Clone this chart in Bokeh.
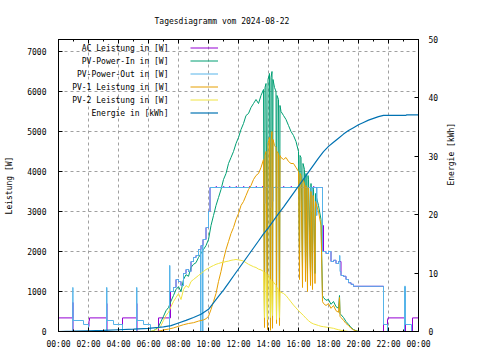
import math
from bokeh.plotting import figure
from bokeh.models import Range1d, LinearAxis, FixedTicker, Legend, LegendItem, Label, Title
from bokeh.core.properties import value
from bokeh.embed import file_html
from bokeh.resources import INLINE

FONT = "DejaVu Sans Mono"

TITLE = "Tagesdiagramm vom 2024-08-22"
X_TICKS = [0, 2, 4, 6, 8, 10, 12, 14, 16, 18, 20, 22, 24]
X_LABELS = ["00:00", "02:00", "04:00", "06:00", "08:00", "10:00", "12:00",
            "14:00", "16:00", "18:00", "20:00", "22:00", "00:00"]
Y_TICKS = [0, 1000, 2000, 3000, 4000, 5000, 6000, 7000]
Y2_TICKS = [0, 10, 20, 30, 40, 50]
SERIES_NAMES = ["AC Leistung in [W]", "PV-Power-In in [W]", "PV-Power-Out in [W]",
                "PV-1 Leistung in [W]", "PV-2 Leistung in [W]", "Energie in [kWh]"]
SERIES_COLORS = ["#9400d3", "#009e73", "#56b4e9", "#e69f00", "#f0e442", "#0072b2"]

# AC Leistung in [W]
AC_T = ["00:00", "00:57", "00:58", "02:00", "02:02", "02:04", "03:12", "03:14", "04:16",
        "05:12", "05:14", "06:40", "07:28", "07:40", "07:50", "08:00", "08:10", "08:20",
        "08:30", "08:40", "08:50", "09:00", "09:10", "09:20", "09:30", "09:38", "09:50",
        "10:00", "10:06", "10:30", "10:32", "11:00", "11:02", "11:24", "11:26", "11:50",
        "11:52", "12:20", "12:22", "12:44", "12:46", "13:10", "13:12", "13:36", "13:38",
        "14:30", "14:32", "15:00", "15:02", "15:30", "15:32", "16:00", "16:02", "16:30",
        "16:32", "17:00", "17:02", "17:36", "17:40", "17:50", "18:00", "18:10", "18:20",
        "18:30", "18:40", "18:50", "19:00", "19:10", "19:20", "19:30", "19:40", "21:40",
        "21:56", "21:58", "23:04", "23:08", "23:36", "24:00"]
AC_W = [340, 725, 0, 125, 275, 340, 700, 0, 340,
        700, 0, 340, 1000, 1100, 1300, 1250, 1150, 1450,
        1550, 1500, 1750, 1850, 1900, 2050, 2150, 2300, 2600,
        3000, 3600, 3625, 3600, 3625, 3600, 3625, 3600, 3625,
        3600, 3625, 3600, 3625, 3600, 3625, 3600, 3625, 3600,
        3625, 3600, 3625, 3600, 3625, 3600, 3625, 3600, 3625,
        3600, 3625, 3600, 2650, 2000, 1950, 2000, 1750, 1780,
        1700, 1750, 1400, 1380, 1300, 1220, 1180, 1130, 0,
        300, 340, 700, 0, 340, 340]

# PV-Power-In in [W]
PVIN_T = ["06:00", "06:10", "06:20", "06:30", "06:40", "06:50", "07:00", "07:10", "07:20",
          "07:30", "07:40", "07:50", "08:00", "08:10", "08:20", "08:30", "08:40", "08:50",
          "09:00", "09:10", "09:20", "09:30", "09:40", "09:50", "10:00", "10:10", "10:20",
          "10:30", "10:40", "10:50", "11:00", "11:10", "11:20", "11:30", "11:40", "11:50",
          "12:00", "12:10", "12:20", "12:30", "12:40", "12:50", "13:00", "13:10", "13:20",
          "13:30", "13:40", "13:44", "13:46", "13:50", "13:56", "13:58", "14:04", "14:08",
          "14:10", "14:14", "14:16", "14:18", "14:24", "14:30", "14:32", "14:34", "14:40",
          "14:44", "14:46", "14:50", "15:00", "15:10", "15:20", "15:30", "15:40", "15:50",
          "16:00", "16:04", "16:06", "16:10", "16:16", "16:18", "16:24", "16:28", "16:30",
          "16:36", "16:38", "16:40", "16:48", "16:50", "16:56", "16:58", "17:00", "17:06",
          "17:08", "17:10", "17:20", "17:30", "17:36", "17:40", "17:50", "18:00", "18:10",
          "18:20", "18:30", "18:40", "18:44", "18:46", "18:50", "19:00", "19:10", "19:20",
          "19:30", "19:40", "19:50", "20:00"]
PVIN_W = [0, 0, 20, 60, 120, 250, 380, 520, 600,
          760, 900, 1050, 1120, 1000, 1300, 1420, 1380, 1600,
          1680, 1720, 1850, 1950, 2050, 2150, 2300, 2650, 2900,
          3150, 3350, 3550, 3800, 3950, 4200, 4350, 4500, 4700,
          4850, 5050, 5200, 5400, 5450, 5600, 5700, 5800, 5700,
          5900, 6050, 200, 6100, 6200, 100, 6300, 6450, 50,
          6350, 6500, 100, 6300, 6100, 6000, 300, 5900, 5800,
          200, 5650, 5500, 5400, 5300, 5150, 5000, 4900, 4750,
          4500, 1800, 4400, 4350, 1600, 4200, 4050, 1700, 3950,
          1450, 3900, 3800, 1500, 3700, 1350, 3600, 3550, 1450,
          3450, 3400, 3150, 2800, 900, 850, 780, 800, 680,
          750, 620, 580, 900, 450, 420, 350, 250, 180,
          100, 50, 20, 0]

# PV-Power-Out in [W]
PVOUT_T = ["00:00", "00:57", "00:58", "01:40", "02:00", "03:12", "03:14", "03:40", "04:16",
           "05:12", "05:14", "05:40", "06:08", "07:24", "07:26", "07:40", "07:50", "08:00",
           "08:10", "08:20", "08:30", "08:40", "08:50", "09:00", "09:10", "09:20", "09:28",
           "09:30", "09:36", "09:38", "09:50", "10:00", "10:06", "13:44", "13:46", "14:08",
           "14:10", "14:16", "14:18", "16:52", "16:54", "17:12", "17:14", "17:36", "17:50",
           "18:00", "18:10", "18:20", "18:30", "18:40", "18:44", "18:46", "18:50", "19:00",
           "19:10", "19:20", "19:30", "19:40", "21:40", "21:56", "23:04", "23:08", "23:32",
           "24:00"]
PVOUT_W = [0, 1100, 275, 175, 0, 1100, 275, 175, 0,
           1100, 275, 175, 0, 1650, 1000, 1100, 1300, 1250,
           1150, 1450, 1550, 1500, 1750, 1850, 1900, 2050, 0,
           2150, 0, 2300, 2600, 3000, 3600, 3200, 3600, 3100,
           3600, 3250, 3600, 3000, 3600, 2900, 3600, 2000, 1950,
           2000, 1750, 1780, 1700, 1750, 1900, 1500, 1400, 1380,
           1300, 1220, 1180, 1130, 175, 0, 1130, 175, 0,
           0]

# PV-1 Leistung in [W]
PV1_T = ["06:00", "06:30", "06:50", "07:00", "07:20", "07:40", "08:00", "08:20", "08:40",
         "09:00", "09:20", "09:40", "09:50", "10:00", "10:10", "10:20", "10:30", "10:40",
         "10:50", "11:00", "11:10", "11:20", "11:30", "11:40", "11:50", "12:00", "12:10",
         "12:20", "12:30", "12:40", "12:50", "13:00", "13:10", "13:20", "13:30", "13:40",
         "13:44", "13:46", "13:50", "13:56", "13:58", "14:04", "14:08", "14:10", "14:14",
         "14:16", "14:18", "14:24", "14:30", "14:32", "14:34", "14:40", "14:44", "14:46",
         "14:50", "15:00", "15:10", "15:20", "15:30", "15:40", "15:50", "16:00", "16:04",
         "16:06", "16:10", "16:16", "16:18", "16:24", "16:28", "16:30", "16:36", "16:38",
         "16:40", "16:48", "16:50", "16:56", "16:58", "17:00", "17:06", "17:08", "17:10",
         "17:20", "17:30", "17:36", "17:40", "17:50", "18:00", "18:10", "18:20", "18:30",
         "18:40", "18:44", "18:46", "18:50", "19:00", "19:10", "19:20", "19:30", "19:40",
         "19:50", "20:00"]
PV1_W = [0, 0, 20, 40, 60, 90, 130, 170, 200,
         220, 260, 290, 320, 380, 550, 750, 950, 1250,
         1500, 1800, 2050, 2250, 2450, 2600, 2800, 2950, 3150,
         3250, 3400, 3550, 3650, 3800, 3900, 3950, 4100, 4300,
         100, 4400, 4500, 50, 4700, 4850, 30, 4750, 5000,
         80, 4800, 4650, 4600, 200, 4500, 4450, 150, 4400,
         4350, 4300, 4350, 4250, 4200, 4200, 4100, 4000, 1300,
         3950, 3900, 1100, 3800, 3700, 1250, 3650, 1000, 3600,
         3550, 1150, 3500, 1050, 3400, 3350, 1200, 3250, 3200,
         3000, 2650, 750, 700, 650, 700, 580, 650, 520,
         480, 850, 380, 350, 280, 200, 150, 80, 40,
         15, 0]

# PV-2 Leistung in [W]
PV2_T = ["06:00", "06:20", "06:40", "06:50", "07:00", "07:10", "07:20", "07:30", "07:40",
         "07:50", "08:00", "08:10", "08:20", "08:30", "08:40", "08:50", "09:00", "09:10",
         "09:20", "09:30", "09:40", "09:50", "10:00", "10:10", "10:20", "10:30", "10:40",
         "10:50", "11:00", "11:10", "11:20", "11:30", "11:40", "11:50", "12:00", "12:10",
         "12:20", "12:30", "12:40", "12:50", "13:00", "13:10", "13:20", "13:30", "13:40",
         "13:44", "13:46", "13:50", "13:56", "13:58", "14:04", "14:08", "14:10", "14:16",
         "14:18", "14:30", "14:32", "14:34", "14:40", "14:44", "14:46", "14:50", "15:00",
         "15:10", "15:20", "15:30", "15:40", "15:50", "16:00", "16:10", "16:20", "16:30",
         "16:40", "16:50", "17:00", "17:10", "17:20", "17:30", "17:40", "17:50", "18:00",
         "18:10", "18:20", "18:30", "18:40", "18:50", "19:00", "19:10", "19:20"]
PV2_W = [0, 20, 80, 150, 280, 400, 480, 620, 750,
         850, 950, 800, 1050, 1150, 1100, 1250, 1300, 1350,
         1400, 1450, 1500, 1550, 1580, 1620, 1650, 1680, 1700,
         1720, 1730, 1750, 1760, 1780, 1790, 1800, 1790, 1780,
         1760, 1720, 1680, 1650, 1620, 1600, 1560, 1540, 1500,
         350, 1480, 1450, 300, 1420, 1380, 350, 1300, 400,
         1250, 1150, 300, 1100, 1050, 350, 1000, 980, 950,
         900, 820, 740, 660, 590, 520, 460, 400, 330,
         270, 220, 190, 170, 150, 130, 120, 110, 100,
         90, 80, 60, 45, 30, 20, 10, 0]

# Energie in [kWh]
EN_T = ["00:00", "01:00", "02:00", "03:00", "04:00", "05:00", "06:00", "06:40", "07:00",
        "07:30", "08:00", "08:30", "09:00", "09:30", "10:00", "10:20", "10:40", "11:00",
        "11:20", "11:40", "12:00", "12:20", "12:40", "13:00", "13:20", "13:40", "14:00",
        "14:20", "14:40", "15:00", "15:20", "15:40", "16:00", "16:20", "16:40", "17:00",
        "17:20", "17:40", "18:00", "18:20", "18:40", "19:00", "19:20", "19:40", "20:00",
        "20:20", "20:40", "21:00", "21:20", "21:40", "23:10", "23:12", "24:00"]
EN_KWH = [0, 0.05, 0.12, 0.2, 0.3, 0.4, 0.55, 0.7, 0.8,
          1.0, 1.45, 1.9, 2.4, 2.95, 3.8, 4.9, 6.0, 7.1,
          8.3, 9.5, 10.7, 11.9, 13.1, 14.3, 15.5, 16.7, 17.8,
          19.0, 20.2, 21.3, 22.5, 23.7, 24.9, 26.1, 27.3, 28.5,
          29.7, 30.8, 31.7, 32.4, 33.1, 33.8, 34.4, 34.9, 35.4,
          35.8, 36.2, 36.5, 36.8, 37.0, 37.0, 37.1, 37.1]


def hrs(ts):
    return [int(t[:2]) + int(t[3:]) / 60 for t in ts]


FRAME_H = 292
p = figure(width=464, height=352, output_backend="svg", toolbar_location=None,
           x_range=Range1d(0, 24), y_range=Range1d(0, 7300),
           min_border_left=58, min_border_right=46, min_border_top=39, min_border_bottom=21,
           background_fill_color="white", border_fill_color="white")
p.extra_y_ranges = {"energy": Range1d(0, 50)}

p.title = Title(text=TITLE, align="left", offset=96, vertical_align="top",
                text_font=FONT, text_font_size="8px", text_font_style="normal",
                text_color="black", standoff=24)

p.outline_line_color = "black"
p.outline_line_width = 1
p.outline_line_alpha = 1

# axes
xa = p.xaxis[0]
xa.ticker = FixedTicker(ticks=X_TICKS, minor_ticks=list(range(0, 25)))
xa.major_label_overrides = {t: l for t, l in zip(X_TICKS, X_LABELS)}
ya = p.yaxis[0]
ya.ticker = FixedTicker(ticks=Y_TICKS)
ya.axis_label = "Leistung [W]"
ya.axis_label_standoff = 10

y2 = LinearAxis(y_range_name="energy", ticker=FixedTicker(ticks=Y2_TICKS),
                axis_label="Energie [kWh]")
p.add_layout(y2, "right")
try:
    y2.axis_label_orientation = math.pi / 2
except Exception:
    pass

# mirrored x ticks on the top border (no labels)
xtop = LinearAxis(ticker=FixedTicker(ticks=X_TICKS, minor_ticks=list(range(0, 25))),
                  major_label_overrides={t: "" for t in X_TICKS},
                  major_label_standoff=0, major_label_text_font_size="1px")
p.add_layout(xtop, "above")

for ax in (xa, ya, y2, xtop):
    ax.axis_label_text_font = FONT
    ax.axis_label_text_font_size = "8px"
    ax.axis_label_text_font_style = "normal"
    ax.axis_label_text_color = "black"
    ax.axis_line_color = "black"
    ax.major_tick_line_color = "black"
    ax.minor_tick_line_color = "black"
    ax.major_tick_in = 4
    ax.major_tick_out = 0
    ax.minor_tick_in = 2
    ax.minor_tick_out = 0
for ax in (xa, ya, y2):
    ax.major_label_text_font = FONT
    ax.major_label_text_font_size = "8px"
    ax.major_label_text_color = "black"
xa.major_label_standoff = 8
ya.major_label_standoff = 12
y2.major_label_standoff = 10
y2.axis_label_standoff = 10
y2.minor_tick_line_color = None
ya.minor_tick_line_color = None

for g in (p.xgrid[0], p.ygrid[0]):
    g.grid_line_color = "#a0a0a0"
    g.grid_line_dash = "3 3"
    g.grid_line_width = 1
p.xgrid[0].ticker = FixedTicker(ticks=X_TICKS)
p.ygrid[0].ticker = FixedTicker(ticks=Y_TICKS)

r_ac = p.step(hrs(AC_T), AC_W, mode="after", line_color=SERIES_COLORS[0], line_width=1)
r_in = p.line(hrs(PVIN_T), PVIN_W, line_color=SERIES_COLORS[1], line_width=1)
r_out = p.step(hrs(PVOUT_T), PVOUT_W, mode="after", line_color=SERIES_COLORS[2], line_width=1)
r_pv1 = p.line(hrs(PV1_T), PV1_W, line_color=SERIES_COLORS[3], line_width=1)
r_pv2 = p.line(hrs(PV2_T), PV2_W, line_color=SERIES_COLORS[4], line_width=1)
r_en = p.line(hrs(EN_T), EN_KWH, y_range_name="energy", line_color=SERIES_COLORS[5],
              line_width=1.2)
renderers = [r_ac, r_in, r_out, r_pv1, r_pv2, r_en]

# legend: sample lines from Bokeh's Legend, right-aligned names to their left (gnuplot style)
LEG_X, LEG_TOP, LEG_PITCH = 132, 8.5, 13
legend = Legend(items=[LegendItem(label=value(""), renderers=[r]) for r in renderers],
                location=(LEG_X, FRAME_H - LEG_TOP + 4.5 - 6 * 9 - 5 * 4),
                padding=0, margin=0, spacing=4, glyph_width=28, glyph_height=9,
                label_height=9, label_width=0, label_standoff=0,
                background_fill_alpha=0, border_line_color=None)
p.add_layout(legend)
for i, name in enumerate(SERIES_NAMES):
    p.add_layout(Label(x=LEG_X - 22, y=FRAME_H - LEG_TOP - i * LEG_PITCH,
                       x_units="screen", y_units="screen", text=name,
                       text_align="right", text_baseline="middle", text_font=FONT,
                       text_font_size="8px", text_color="black"))

open("out.html", "w").write(file_html(p, INLINE))
